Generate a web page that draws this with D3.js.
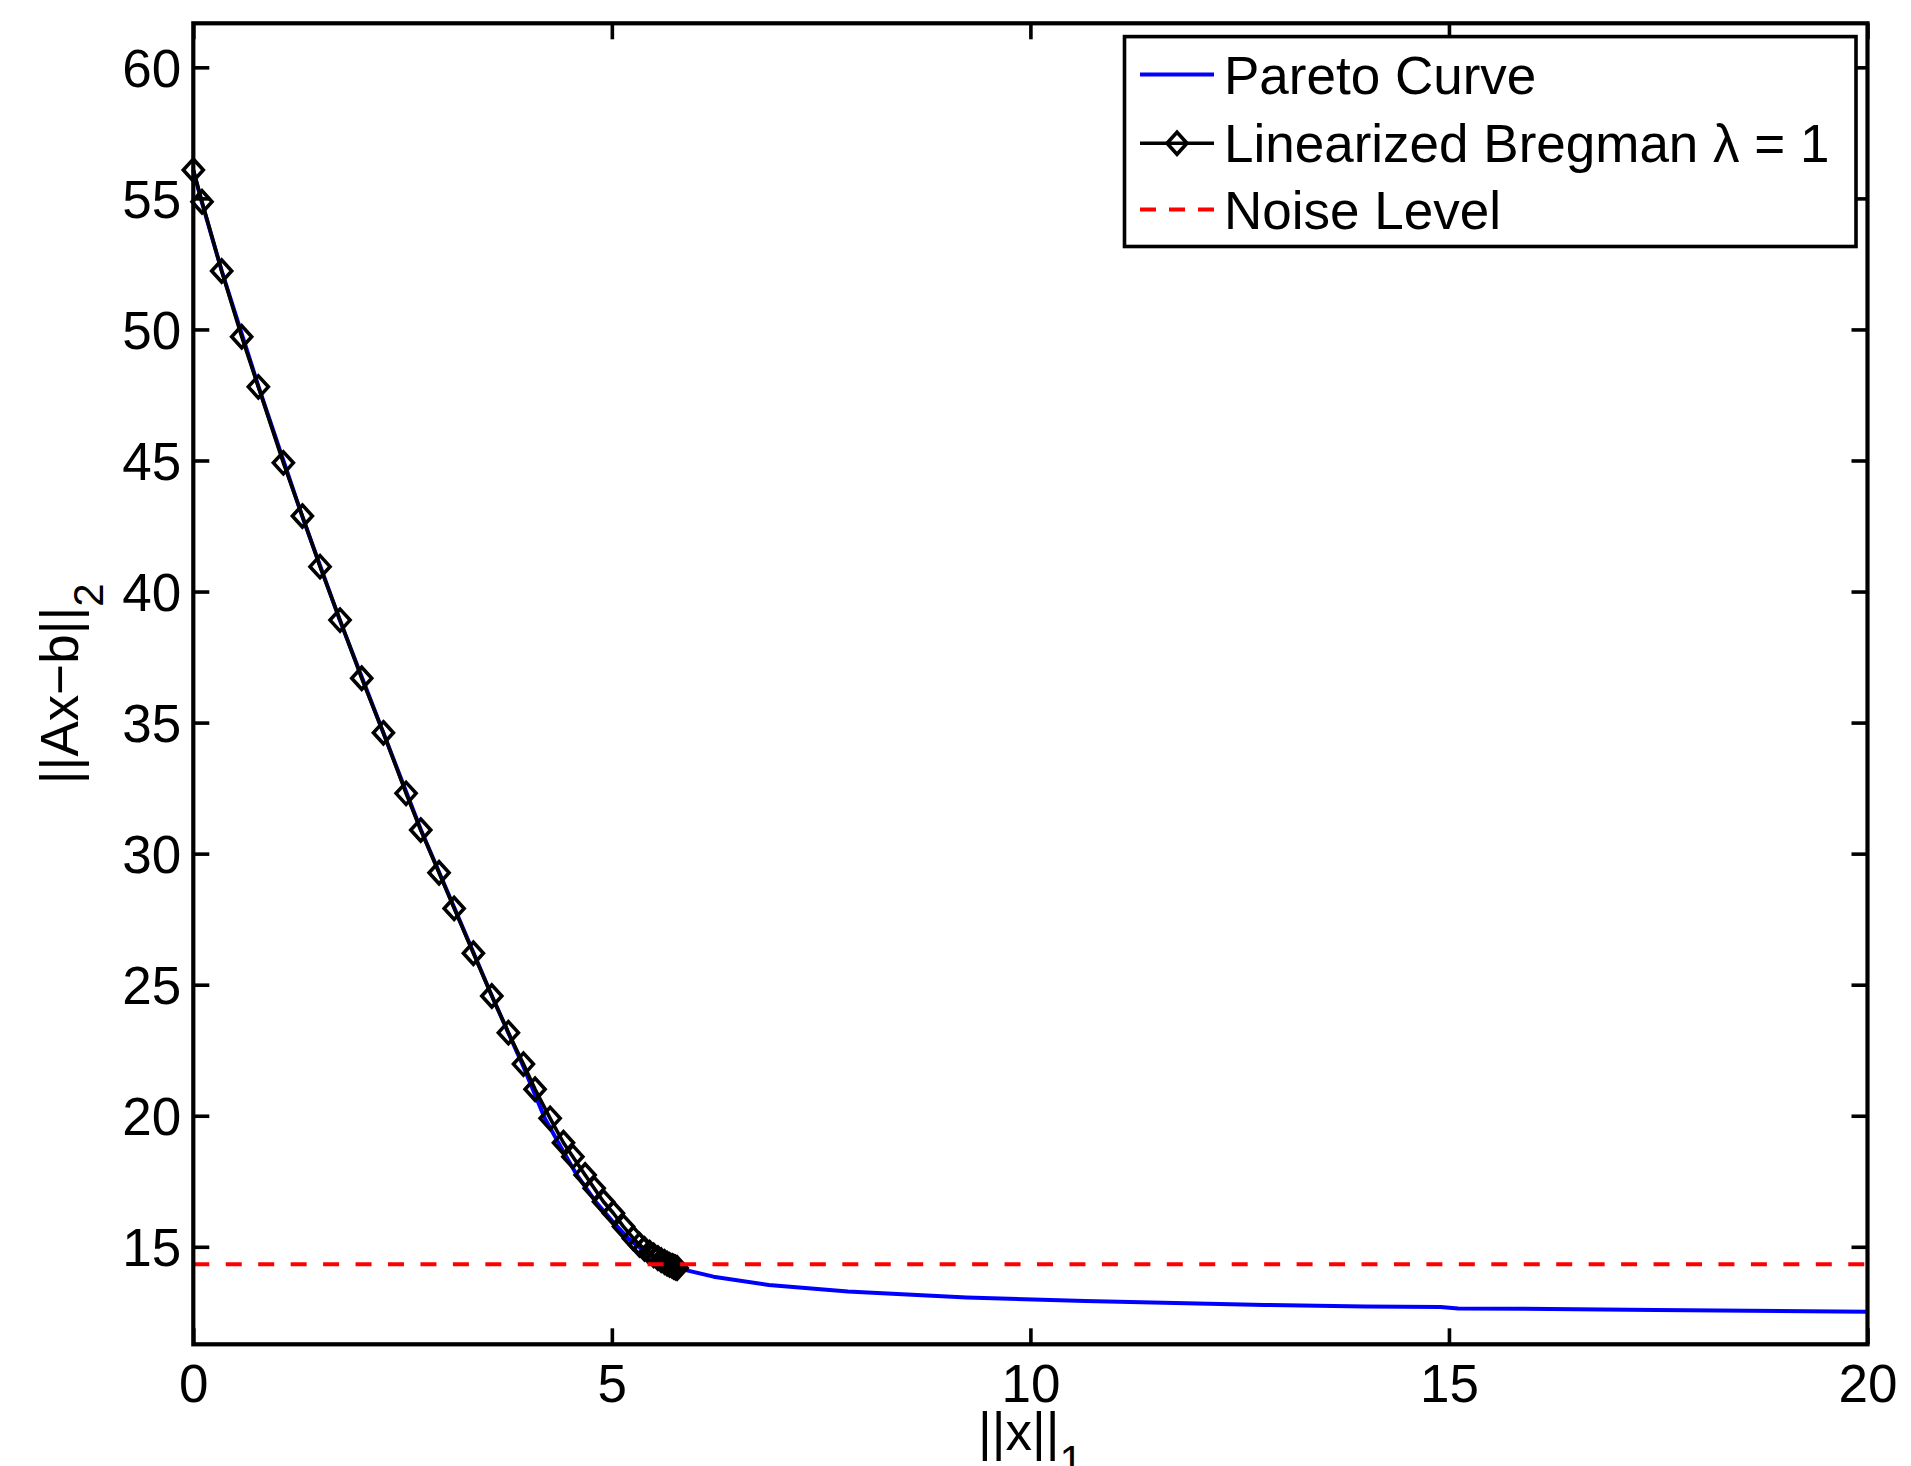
<!DOCTYPE html>
<html>
<head>
<meta charset="utf-8">
<script src="https://cdn.jsdelivr.net/npm/d3@7"></script>
<style>
  html, body { margin: 0; padding: 0; background: #fff; }
  svg { display: block; font-family: "Liberation Sans", Arial, Helvetica, sans-serif; }
</style>
</head>
<body>
<svg id="chart" width="1911" height="1466"></svg>
<script>
// Pareto curve: residual norm vs. solution l1-norm
const paretoX = [0, 0.10, 0.34, 0.78, 1.30, 1.75, 2.27, 2.72, 3.13, 3.57, 3.94, 4.20, 4.40, 4.58, 4.80, 5.00, 5.20, 5.40, 5.60, 5.883, 6.214, 6.875, 7.82, 9.238, 10.655, 12.8, 14.0, 14.9, 15.11, 16.2, 17.47, 20.0];
const paretoY = [56.08, 54.87, 52.23, 47.81, 42.88, 38.91, 34.61, 30.90, 27.85, 24.55, 21.90, 19.90, 18.75, 17.75, 16.75, 16.00, 15.30, 14.80, 14.42, 14.11, 13.86, 13.54, 13.29, 13.07, 12.93, 12.78, 12.72, 12.70, 12.65, 12.63, 12.59, 12.52];

// Linearized Bregman iterates (lambda = 1)
const bregmanX = [0, 0.104, 0.339, 0.578, 0.777, 1.076, 1.303, 1.514, 1.753, 2.012, 2.271, 2.542, 2.717, 2.936, 3.116, 3.346, 3.566, 3.764, 3.944, 4.083, 4.263, 4.422, 4.534, 4.681, 4.789, 4.900, 5.019, 5.139, 5.258, 5.33, 5.39, 5.45, 5.50, 5.55, 5.59, 5.63, 5.66, 5.69, 5.72, 5.74, 5.76, 5.78];
const bregmanY = [56.08, 54.87, 52.23, 49.72, 47.81, 44.91, 42.88, 40.95, 38.91, 36.69, 34.61, 32.30, 30.90, 29.27, 27.91, 26.20, 24.57, 23.17, 21.97, 21.01, 19.90, 18.97, 18.44, 17.74, 17.23, 16.72, 16.28, 15.77, 15.32, 15.08, 14.92, 14.78, 14.67, 14.57, 14.49, 14.42, 14.36, 14.31, 14.27, 14.24, 14.21, 14.19];

// Noise level
const noiseLevel = 14.33;

// Axis ticks
const xTicks = [0, 5, 10, 15, 20];
const yTicks = [15, 20, 25, 30, 35, 40, 45, 50, 55, 60];

const legendLabels = ["Pareto Curve", "Linearized Bregman \u03bb = 1", "Noise Level"];

const svg = d3.select("#chart");
const plot = { left: 193.3, right: 1867.5, top: 23.3, bottom: 1344.3 };

const x = d3.scaleLinear().domain([0, 20]).range([plot.left, plot.right]);
const y = d3.scaleLinear().domain([11.28, 61.68]).range([plot.bottom, plot.top]);

const fontSize = 53;

// Data lines
const line = d3.line().x(d => x(d[0])).y(d => y(d[1]));
const pareto = paretoX.map((v, i) => [v, paretoY[i]]);
const bregman = bregmanX.map((v, i) => [v, bregmanY[i]]);

svg.append("path")
  .datum(pareto)
  .attr("d", line)
  .attr("fill", "none")
  .attr("stroke", "#0000ff")
  .attr("stroke-width", 4)
  .attr("stroke-linejoin", "round");

svg.append("path")
  .datum(bregman)
  .attr("d", line)
  .attr("fill", "none")
  .attr("stroke", "#000")
  .attr("stroke-width", 3.6)
  .attr("stroke-linejoin", "round");

const diamond = (cx, cy) => `M${cx},${cy - 11}L${cx + 10},${cy}L${cx},${cy + 11}L${cx - 10},${cy}Z`;

svg.append("g").selectAll("path")
  .data(bregman)
  .join("path")
  .attr("d", d => diamond(x(d[0]), y(d[1])))
  .attr("fill", "none")
  .attr("stroke", "#000")
  .attr("stroke-width", 3.6);

svg.append("line")
  .attr("x1", x(0)).attr("x2", x(20))
  .attr("y1", y(noiseLevel)).attr("y2", y(noiseLevel))
  .attr("stroke", "#ff0000")
  .attr("stroke-width", 4)
  .attr("stroke-dasharray", "16,16.45");

// Axes: ticks point inward on all four sides
const tickLen = 16;
const axisStyle = g => {
  g.select(".domain").remove();
  g.selectAll(".tick line").attr("stroke", "#000").attr("stroke-width", 3.6);
  g.selectAll(".tick text").attr("fill", "#000").attr("font-size", fontSize)
    .attr("font-family", "Liberation Sans, Arial, Helvetica, sans-serif");
};

svg.append("g")
  .attr("transform", `translate(0,${plot.bottom})`)
  .call(d3.axisBottom(x).tickValues(xTicks).tickFormat(d3.format("d")).tickSizeInner(-tickLen).tickSizeOuter(0).tickPadding(20))
  .call(axisStyle)
  .call(g => g.selectAll(".tick text").attr("dy", "0.71em"));

svg.append("g")
  .attr("transform", `translate(0,${plot.top})`)
  .call(d3.axisTop(x).tickValues(xTicks).tickFormat("").tickSizeInner(-tickLen).tickSizeOuter(0))
  .call(axisStyle);

svg.append("g")
  .attr("transform", `translate(${plot.left},0)`)
  .call(d3.axisLeft(y).tickValues(yTicks).tickFormat(d3.format("d")).tickSizeInner(-tickLen).tickSizeOuter(0).tickPadding(12))
  .call(axisStyle)
  .call(g => g.selectAll(".tick text").attr("dy", "0.36em"));

svg.append("g")
  .attr("transform", `translate(${plot.right},0)`)
  .call(d3.axisRight(y).tickValues(yTicks).tickFormat("").tickSizeInner(-tickLen).tickSizeOuter(0))
  .call(axisStyle);

// Plot frame
svg.append("rect")
  .attr("x", plot.left).attr("y", plot.top)
  .attr("width", plot.right - plot.left).attr("height", plot.bottom - plot.top)
  .attr("fill", "none").attr("stroke", "#000").attr("stroke-width", 4.2);

// Axis labels
const xl = svg.append("text")
  .attr("x", (plot.left + plot.right) / 2)
  .attr("y", 1450)
  .attr("text-anchor", "middle")
  .attr("font-size", fontSize)
  .attr("fill", "#000");
xl.append("tspan").text("||x||");
xl.append("tspan").attr("font-size", 42).attr("dy", 25).text("1");

const yl = svg.append("text")
  .attr("transform", `translate(78,${(plot.top + plot.bottom) / 2}) rotate(-90)`)
  .attr("text-anchor", "middle")
  .attr("font-size", fontSize)
  .attr("fill", "#000");
yl.append("tspan").text("||Ax\u2212b||");
yl.append("tspan").attr("font-size", 42).attr("dy", 25).text("2");

// Legend
const legend = svg.append("g");
legend.append("rect")
  .attr("x", 1124.5).attr("y", 36.6)
  .attr("width", 1856 - 1124.5).attr("height", 246.5 - 36.6)
  .attr("fill", "#fff").attr("stroke", "#000").attr("stroke-width", 3.6);

const rowY = [74.5, 143.3, 209.5];
const sampleX1 = 1140, sampleX2 = 1214;

legend.append("line")
  .attr("x1", sampleX1).attr("x2", sampleX2).attr("y1", rowY[0]).attr("y2", rowY[0])
  .attr("stroke", "#0000ff").attr("stroke-width", 4);
legend.append("line")
  .attr("x1", sampleX1).attr("x2", sampleX2).attr("y1", rowY[1]).attr("y2", rowY[1])
  .attr("stroke", "#000").attr("stroke-width", 3.6);
legend.append("path")
  .attr("d", diamond((sampleX1 + sampleX2) / 2, rowY[1]))
  .attr("fill", "none").attr("stroke", "#000").attr("stroke-width", 3.6);
legend.append("line")
  .attr("x1", sampleX1).attr("x2", sampleX2).attr("y1", rowY[2]).attr("y2", rowY[2])
  .attr("stroke", "#ff0000").attr("stroke-width", 4).attr("stroke-dasharray", "16,13");

legend.selectAll("text.lbl")
  .data(legendLabels)
  .join("text")
  .attr("class", "lbl")
  .attr("x", 1224)
  .attr("y", (d, i) => rowY[i] + 19)
  .attr("font-size", fontSize)
  .attr("fill", "#000")
  .text(d => d);
</script>
</body>
</html>
